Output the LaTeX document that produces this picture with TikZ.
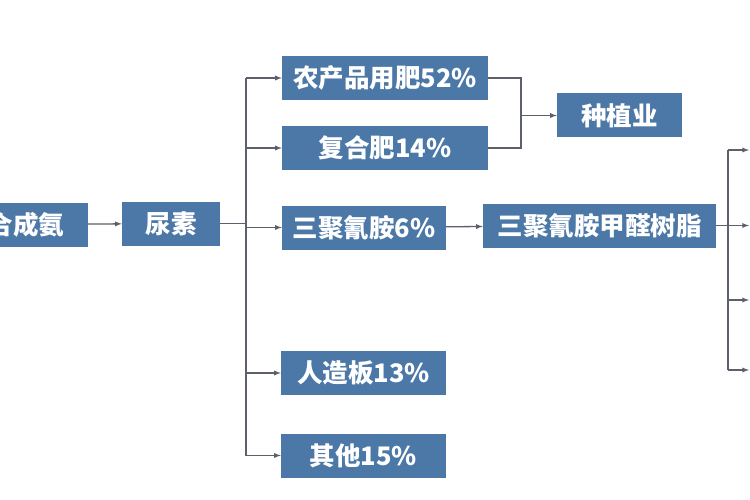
\documentclass[tikz,border=0pt]{standalone}
\usepackage{fontspec}
\newfontfamily\cjk{Noto Sans CJK SC}
\definecolor{boxblue}{RGB}{76,120,168}
\definecolor{linegray}{RGB}{92,96,106}

\begin{document}
\begin{tikzpicture}[x=1pt, y=-1pt,
  box/.style={fill=boxblue, text=white, inner sep=0pt, minimum height=44pt,
    font=\cjk\bfseries\fontsize{25.5}{28}\selectfont},
  link/.style={draw=linegray, line width=1.3pt},
  arr/.style={link, ->, >=latex}]

            \useasboundingbox (0,0) rectangle (750,500);
            \clip (0,0) rectangle (750,500);

            \def \busl {246} % left bus
            \def \busm {521} % merge line
            \def \busr {728} % right bus

            % nodes
            \node[box, minimum width=124pt] (hecheng) at (26,224.5) {合成氨};
            \node[box, minimum width=98pt] (niaosu) at (171,223.5) {尿素};
            \node[box, minimum width=206pt] (nongchan) at (385,78) {农产品用肥52\%};
            \node[box, minimum width=206pt] (fuhe) at (385,148) {复合肥14\%};
            \node[box, minimum width=164pt] (sanju) at (364,227.5) {三聚氰胺6\%};
            \node[box, minimum width=165pt] (renzao) at (363.5,373) {人造板13\%};
            \node[box, minimum width=165pt] (qita) at (363.5,455.5) {其他15\%};
            \node[box, minimum width=125pt] (zhongzhi) at (619.5,115.5) {种植业};
            \node[box, minimum width=233pt] (shuzhi) at (599.5,225.5) {三聚氰胺甲醛树脂};

            % off-picture targets
            \foreach \y [count=\i] in {150,225.5,300,370}
              \coordinate (out\i) at (749,\y);

            % links
            \draw[arr] (hecheng) -- (niaosu);
            \draw[link] (niaosu.east) -- (\busl,223.5);
            \draw[link] (\busl,78) -- (\busl,455.5);
            \foreach \t in {nongchan,fuhe,sanju,renzao,qita}
              \draw[arr] (\t.west -| \busl,0) -- (\t.west);

            \draw[link] (nongchan.east) -| (\busm,115.5) |- (fuhe.east);
            \draw[arr] (\busm,115.5) -- (zhongzhi.west);

            \draw[arr] (sanju) -- (shuzhi);
            \draw[link] (shuzhi.east) -- (\busr,225.5);
            \draw[link] (\busr,150) -- (\busr,370);
            \foreach \i in {1,...,4}
              \draw[arr] (out\i -| \busr,0) -- (out\i);
            \end{tikzpicture}
\end{document}
